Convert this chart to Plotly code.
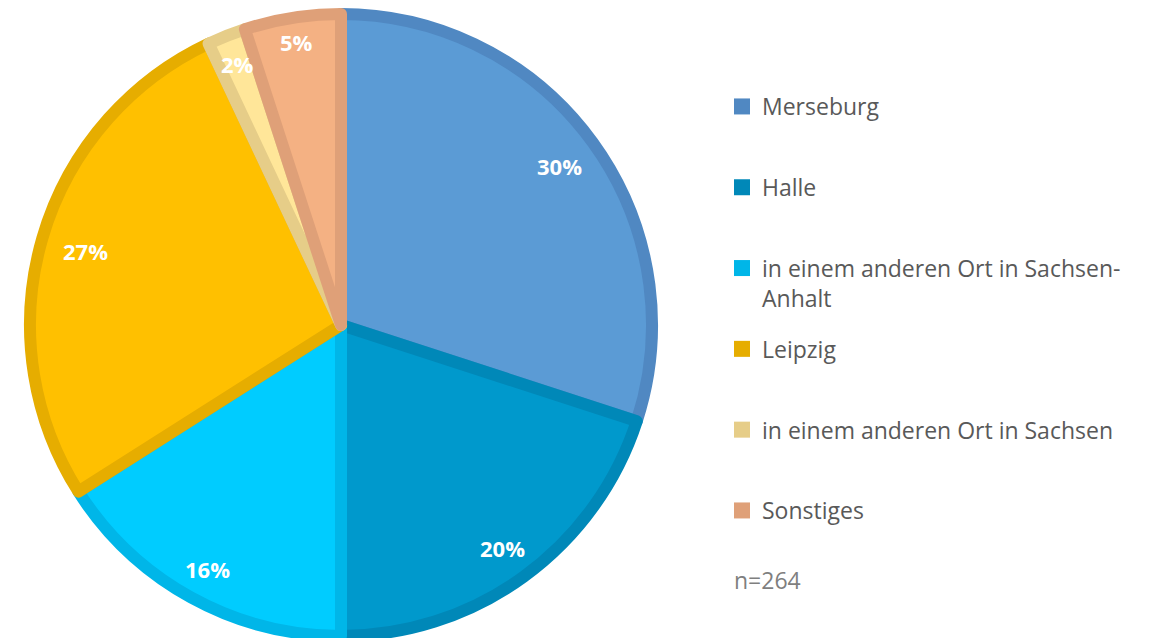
import math
import plotly.graph_objects as go

# Wohnort der Befragten (n=264)
labels = ["Merseburg", "Halle", "in einem anderen Ort in Sachsen-<br>Anhalt", "Leipzig",
          "in einem anderen Ort in Sachsen", "Sonstiges"]
share_pct = [30, 20, 16, 27, 2, 5]
fill_colors = ["#5B9BD5", "#0099CC", "#00CCFF", "#FFC000", "#FFE699", "#F4B183"]
edge_colors = ["#5088C2", "#0088B8", "#00B6E8", "#E6AD00", "#E6CD88", "#DFA078"]
note = "n=264"

W, H = 1150, 638
M_T, M_B = 6, 10              # margins -> pie radius 311 px
PIE_CX = 333                  # pie centre, px from left
plot_h = H - M_T - M_B


def py(px):
    # pixel row (from top of figure) -> paper y
    return 1 - (px - M_T) / plot_h


fig = go.Figure()

fig.add_trace(go.Pie(
    labels=labels,
    values=share_pct,
    sort=False,
    direction="clockwise",
    rotation=0,
    marker=dict(colors=fill_colors, line=dict(color=edge_colors, width=12)),
    textinfo="none",
    domain=dict(x=[0, 2 * PIE_CX / W], y=[0, 1]),
    showlegend=False,
    hoverinfo="label+percent",
))

# percentage labels at the inner side of the rim ("inside end")
cum = 0
for v in share_pct:
    theta = math.radians((cum + v / 2) / sum(share_pct) * 360)
    cum += v
    dist = 290 - 25 * abs(math.sin(theta))   # wide text sits a bit further in
    fig.add_annotation(
        text=f"{v}%", xref="paper", yref="paper",
        x=(PIE_CX + dist * math.sin(theta)) / W,
        y=0.5 + dist * math.cos(theta) / plot_h,
        showarrow=False, xanchor="center", yanchor="middle",
        font=dict(family="Open Sans", size=22, color="white", weight="bold"),
    )

# legend built from invisible helper traces so the item spacing can be set
for i, (lab, col) in enumerate(zip(labels, edge_colors)):
    txt = lab if "<br>" in lab else lab + "<br> "
    fig.add_trace(go.Scatter(
        x=[None], y=[None], mode="markers", name=txt,
        marker=dict(symbol="square", size=16, color=col),
        legendgroup=f"g{i}", showlegend=True,
    ))

fig.add_annotation(
    text=note, xref="paper", yref="paper", x=724 / W, y=py(572),
    xanchor="left", yanchor="middle", showarrow=False,
    font=dict(family="Open Sans", size=23, color="#7F7F7F"),
)

fig.update_layout(
    width=W, height=H,
    margin=dict(l=0, r=0, t=M_T, b=M_B),
    paper_bgcolor="white", plot_bgcolor="white",
    xaxis=dict(visible=False), yaxis=dict(visible=False),
    legend=dict(
        x=714 / W, y=py(77), xanchor="left", yanchor="top",
        font=dict(family="Open Sans", size=23, color="#595959"),
        tracegroupgap=18, valign="top", itemclick=False,
    ),
)

fig.write_html("out.html")
